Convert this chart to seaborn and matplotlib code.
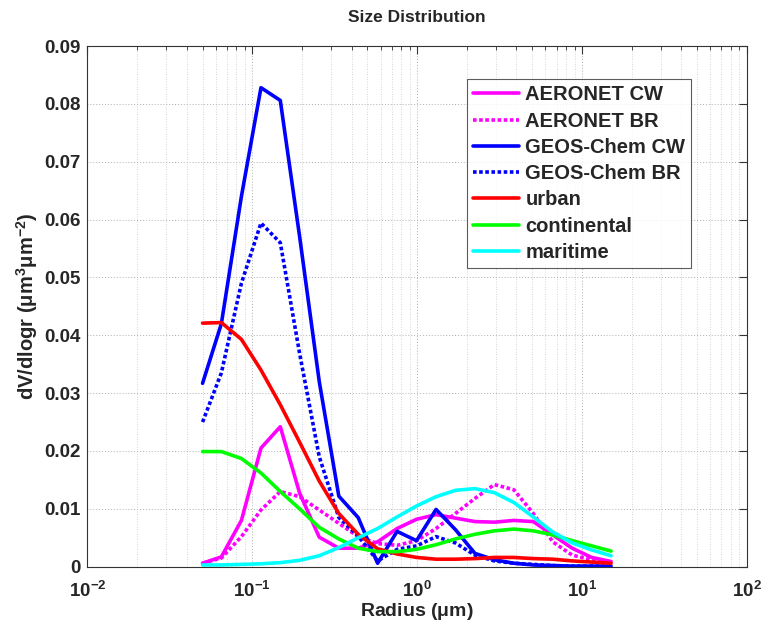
import numpy as np
import pandas as pd
import matplotlib
matplotlib.use("Agg")
import matplotlib.pyplot as plt
import matplotlib.ticker as mticker
import seaborn as sns

radius = [0.050, 0.065, 0.086, 0.113, 0.148, 0.194, 0.255, 0.335, 0.439, 0.576, 0.756,
          0.992, 1.302, 1.708, 2.241, 2.940, 3.857, 5.061, 6.641, 8.713, 11.432, 15.000]

aeronet_cw = [0.0006, 0.0017, 0.0080, 0.0205, 0.0242, 0.0127, 0.0051, 0.0032, 0.0032, 0.0043, 0.0066,
              0.0082, 0.0090, 0.0084, 0.0078, 0.0077, 0.0080, 0.0078, 0.0055, 0.0032, 0.0016, 0.0009]
aeronet_br = [0.0006, 0.0015, 0.0052, 0.0098, 0.0130, 0.0121, 0.0098, 0.0075, 0.0052, 0.0040, 0.0037,
              0.0045, 0.0066, 0.0092, 0.0118, 0.0142, 0.0133, 0.0092, 0.0043, 0.0020, 0.0012, 0.0007]
geos_cw = [0.0317, 0.0420, 0.0640, 0.0828, 0.0806, 0.0570, 0.0320, 0.0122, 0.0085, 0.0006, 0.0061,
           0.0045, 0.0099, 0.0064, 0.0023, 0.0012, 0.0006, 0.0003, 0.0002, 0.0001, 0.0001, 0.0001]
geos_br = [0.0250, 0.0335, 0.0490, 0.0594, 0.0560, 0.0368, 0.0190, 0.0085, 0.0053, 0.0010, 0.0030,
           0.0036, 0.0052, 0.0041, 0.0020, 0.0010, 0.0006, 0.0004, 0.0002, 0.0001, 0.0001, 0.0001]
urban = [0.0421, 0.0422, 0.0393, 0.0340, 0.0280, 0.0215, 0.0148, 0.0092, 0.0056, 0.0031, 0.0022,
         0.0016, 0.0013, 0.0013, 0.0014, 0.0016, 0.0016, 0.0014, 0.0013, 0.0010, 0.0008, 0.0006]
continental = [0.0199, 0.0199, 0.0187, 0.0162, 0.0130, 0.0100, 0.0068, 0.0048, 0.0032, 0.0026, 0.0026,
               0.0030, 0.0038, 0.0048, 0.0056, 0.0062, 0.0065, 0.0062, 0.0055, 0.0045, 0.0036, 0.0027]
maritime = [0.0003, 0.0003, 0.0004, 0.0005, 0.0007, 0.0011, 0.0019, 0.0033, 0.0050, 0.0066, 0.0086,
            0.0105, 0.0121, 0.0132, 0.0135, 0.0128, 0.0111, 0.0086, 0.0060, 0.0041, 0.0029, 0.0019]

series_names = ["AERONET CW", "AERONET BR", "GEOS-Chem CW", "GEOS-Chem BR",
                "urban", "continental", "maritime"]
series_values = [aeronet_cw, aeronet_br, geos_cw, geos_br, urban, continental, maritime]
colors = ["#ff00ff", "#ff00ff", "#0000ff", "#0000ff", "#ff0000", "#00ff00", "#00ffff"]
dotted = [False, True, False, True, False, False, False]

x_ticks = [0.01, 0.1, 1, 10, 100]
x_ticklabels = [r"$10^{-2}$", r"$10^{-1}$", r"$10^{0}$", r"$10^{1}$", r"$10^{2}$"]
y_ticks = [0, 0.01, 0.02, 0.03, 0.04, 0.05, 0.06, 0.07, 0.08, 0.09]
y_ticklabels = ["0", "0.01", "0.02", "0.03", "0.04", "0.05", "0.06", "0.07", "0.08", "0.09"]

sns.set_style("white")
plt.rcParams["font.family"] = ["Liberation Sans", "DejaVu Sans"]
plt.rcParams["font.weight"] = "bold"
plt.rcParams["mathtext.fontset"] = "custom"
plt.rcParams["mathtext.rm"] = "Liberation Sans:bold"
plt.rcParams["mathtext.it"] = "Liberation Sans:bold"
plt.rcParams["mathtext.bf"] = "Liberation Sans:bold"
plt.rcParams["mathtext.default"] = "rm"

fig = plt.figure(figsize=(7.63, 6.22), dpi=100)
ax = fig.add_axes([0.1144, 0.0889, 0.8646, 0.8371])

for name, vals, col, dot in zip(series_names, series_values, colors, dotted):
    df = pd.DataFrame({"radius": radius, "dv": vals})
    sns.lineplot(data=df, x="radius", y="dv", ax=ax, color=col, linewidth=2.6,
                 label=name, linestyle=(0, (1.0, 0.7)) if dot else "-", sort=False)

ax.set_xscale("log")
ax.set_xlim(0.01, 100)
ax.set_ylim(0, 0.09)
ax.set_xticks(x_ticks)
ax.set_xticklabels(x_ticklabels)
ax.set_yticks(y_ticks)
ax.set_yticklabels(y_ticklabels)
ax.xaxis.set_minor_locator(mticker.LogLocator(base=10, subs=np.arange(2, 10), numticks=20))
ax.xaxis.set_minor_formatter(mticker.NullFormatter())

ax.grid(True, which="major", axis="both", linestyle=(0, (1, 2)), color="#b0b0b0", linewidth=0.7)
ax.grid(True, which="minor", axis="x", linestyle=(0, (1, 2)), color="#c8c8c8", linewidth=0.6)

ax.tick_params(axis="both", which="both", direction="in", top=True, right=True,
               labelsize=13.5, color="#333333")
ax.tick_params(axis="both", which="major", length=6, width=0.8)
ax.tick_params(axis="y", which="major", pad=5)
ax.tick_params(axis="x", which="major", pad=10)
ax.tick_params(axis="x", which="minor", length=3, width=0.6)
for lab in ax.get_xticklabels() + ax.get_yticklabels():
    lab.set_fontweight("bold")
for s in ax.spines.values():
    s.set_color("#333333")
    s.set_linewidth(0.8)

ax.set_xlabel(r"Radius ($\mu$m)", fontsize=14, fontweight="bold", labelpad=0)
ax.set_ylabel(r"dV/dlogr ($\mu$m$^{3}$$\mu$m$^{-2}$)", fontsize=14.5, fontweight="bold", labelpad=3)
ax.set_title("Size Distribution", fontsize=12.5, fontweight="bold", pad=17)

leg = ax.legend(loc="upper left", bbox_to_anchor=(0.5756, 0.936), frameon=True, fancybox=False,
                edgecolor="#333333", fontsize=14.5, handlelength=2.3, handletextpad=0.3,
                labelspacing=0.36, borderpad=0.3, borderaxespad=0)
leg.get_frame().set_linewidth(0.8)
for t in leg.get_texts():
    t.set_fontweight("bold")

fig.savefig("out.png", dpi=100)
